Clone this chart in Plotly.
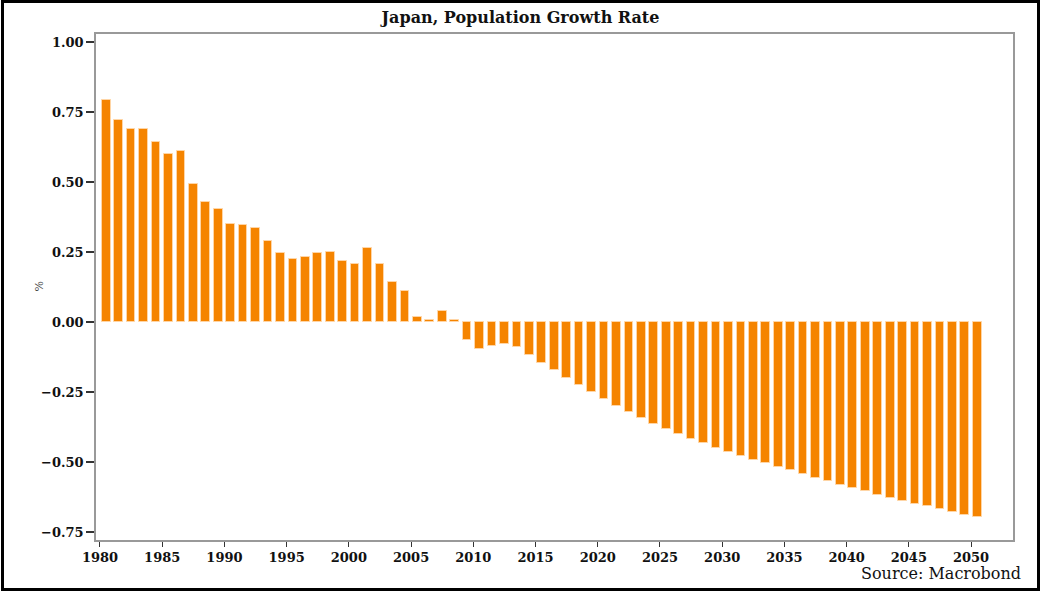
import plotly.graph_objects as go

years = list(range(1980, 2051))
growth = [
    0.793, 0.721, 0.688, 0.689, 0.642, 0.600, 0.611, 0.494, 0.429, 0.404,
    0.350, 0.345, 0.336, 0.289, 0.248, 0.225, 0.231, 0.245, 0.249, 0.219,
    0.207, 0.264, 0.206, 0.142, 0.111, 0.017, 0.008, 0.039, 0.007, -0.065,
    -0.098, -0.087, -0.080, -0.090, -0.119, -0.145, -0.171, -0.199, -0.225, -0.251,
    -0.275, -0.299, -0.321, -0.343, -0.363, -0.382, -0.400, -0.417, -0.433, -0.449,
    -0.463, -0.477, -0.492, -0.505, -0.517, -0.530, -0.543, -0.557, -0.569, -0.581,
    -0.593, -0.605, -0.618, -0.630, -0.640, -0.649, -0.657, -0.667, -0.679, -0.689,
    -0.696,
]
x_ticks = list(range(1980, 2051, 5))
y_ticks = [-0.75, -0.5, -0.25, 0.0, 0.25, 0.5, 0.75, 1.0]
y_tick_text = ["\u22120.75", "\u22120.50", "\u22120.25", "0.00", "0.25", "0.50", "0.75", "1.00"]

W, H = 1041, 592
ML, MR, MT, MB = 96, 28, 34, 52
PW, PH = W - ML - MR, H - MT - MB

def px_to_paper_x(px):
    return (px - ML) / PW

def px_to_paper_y(py):
    return (H - MB - py) / PH

fig = go.Figure()
fig.add_trace(go.Bar(
    x=[y + 0.5 for y in years],
    y=growth,
    width=0.7,
    marker=dict(color="#F58400", line=dict(color="rgba(255,215,170,0.9)", width=1)),
    hoverinfo="x+y",
))

serif = "DejaVu Serif"
fig.update_layout(
    width=W, height=H,
    margin=dict(l=ML, r=MR, t=MT, b=MB),
    paper_bgcolor="white", plot_bgcolor="white",
    showlegend=False,
    bargap=0,
    title=dict(text="<b>Japan, Population Growth Rate</b>", x=0.5, xref="container",
               y=1 - 17 / H, yref="container", yanchor="middle", xanchor="center",
               font=dict(family=serif, size=16, color="#111")),
    xaxis=dict(
        range=[1979.679, 2053.37], tickvals=x_ticks, ticktext=[str(t) for t in x_ticks],
        ticks="outside", ticklen=5, tickcolor="#333", tickwidth=1,
        showgrid=False, zeroline=False,
        showline=True, linecolor="#999", linewidth=1.5, mirror=True,
        tickfont=dict(family=serif, size=13, color="#111", weight="bold"),
    ),
    yaxis=dict(
        range=[-0.7786, 1.0286], tickvals=y_ticks, ticktext=y_tick_text,
        ticks="outside", ticklen=8, tickcolor="#333", tickwidth=1.5,
        showgrid=False, zeroline=False,
        showline=True, linecolor="#999", linewidth=1.5, mirror=True,
        tickfont=dict(family=serif, size=13, color="#111", weight="bold"),
    ),
    annotations=[
        dict(text="%", x=px_to_paper_x(30), y=0.5, xref="paper", yref="paper",
             showarrow=False, textangle=-90, font=dict(family=serif, size=11, color="#444")),
        dict(text="Source: Macrobond", x=px_to_paper_x(1023), y=px_to_paper_y(573),
             xref="paper", yref="paper", xanchor="right", yanchor="middle",
             showarrow=False, font=dict(family=serif, size=16, color="#111")),
    ],
    shapes=[
        dict(type="rect", xref="paper", yref="paper",
             x0=px_to_paper_x(2.5), x1=px_to_paper_x(1038.5),
             y0=px_to_paper_y(589.5), y1=px_to_paper_y(1.5),
             line=dict(color="black", width=3), fillcolor="rgba(0,0,0,0)", layer="above"),
    ],
)

fig.write_html(
    "out.html",
    config={"displayModeBar": False},
    post_script="document.body.style.margin='0';document.body.style.overflow='hidden';",
)
